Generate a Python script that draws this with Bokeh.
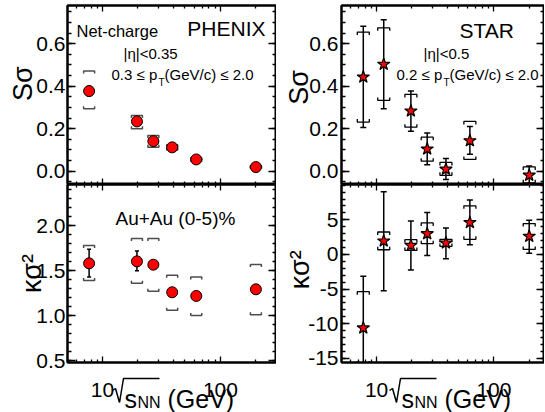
import numpy as np
from bokeh.plotting import figure
from bokeh.layouts import row, column
from bokeh.models import (Range1d, FixedTicker, LogAxis, LinearAxis, Label,
                          PrintfTickFormatter, CustomJSTickFormatter)
from bokeh.core.properties import value
from bokeh.embed import file_html
from bokeh.resources import INLINE

FONT = "Liberation Sans"

# ---------------- data ----------------
phenix_energy = [7.7, 19.6, 27.0, 39.0, 62.4, 200.0]
phenix_ss = [0.377, 0.234, 0.141, 0.112, 0.055, 0.019]
phenix_ss_stat_lo = [0.355, 0.222, 0.129, 0.106, 0.050, 0.015]
phenix_ss_stat_hi = [0.399, 0.246, 0.153, 0.118, 0.060, 0.023]
phenix_ss_sys_lo = [0.294, 0.199, 0.113, 0.100, 0.047, 0.013]
phenix_ss_sys_hi = [0.471, 0.262, 0.168, 0.124, 0.063, 0.025]

phenix_kk = [1.582, 1.604, 1.567, 1.260, 1.219, 1.293]
phenix_kk_stat_lo = [1.43, 1.50, 1.52, 1.22, 1.18, 1.25]
phenix_kk_stat_hi = [1.74, 1.72, 1.61, 1.30, 1.26, 1.34]
phenix_kk_sys_lo = [1.39, 1.36, 1.27, 1.06, 1.00, 1.01]
phenix_kk_sys_hi = [1.78, 1.86, 1.86, 1.45, 1.43, 1.57]

star_energy = [7.7, 11.5, 19.6, 27.0, 39.0, 62.4, 200.0]
star_ss = [0.443, 0.503, 0.283, 0.104, 0.009, 0.143, -0.019]
star_ss_stat_lo = [0.206, 0.294, 0.188, 0.030, -0.039, 0.079, -0.067]
star_ss_stat_hi = [0.682, 0.713, 0.377, 0.179, 0.060, 0.210, 0.024]
star_ss_sys_lo = [0.231, 0.333, 0.207, 0.047, -0.020, 0.055, -0.055]
star_ss_sys_hi = [0.655, 0.675, 0.361, 0.160, 0.041, 0.234, 0.020]

star_kk = [-10.61, 1.94, 1.31, 3.00, 1.65, 4.60, 2.62]
star_kk_stat_lo = [-18.0, -5.23, -2.23, -0.15, -0.63, 1.41, 0.19]
star_kk_stat_hi = [-3.15, 9.06, 4.84, 6.06, 3.82, 7.85, 4.94]
star_kk_sys_lo = [-15.8, 0.68, 0.58, 1.55, 1.16, 2.18, 0.73]
star_kk_sys_hi = [-5.38, 3.24, 2.13, 4.55, 2.18, 7.02, 4.46]

x_major = [10, 100]
x_tick_labels = ["10", "100"]
x_minor = [5, 6, 7, 8, 9, 20, 30, 40, 50, 60, 70, 80, 90, 200, 300]
ss_major = [0.0, 0.2, 0.4, 0.6]
ss_minor = [round(-0.05 + 0.05 * i, 2) for i in range(17)]
kk_major = [0.5, 1.0, 1.5, 2.0]
kk_minor = [round(0.5 + 0.1 * i, 2) for i in range(20)]
skk_major = [-15, -10, -5, 0, 5]
skk_minor = list(range(-15, 11))

# ---------------- layout constants ----------------
LX = Range1d(5.05, 299.0)
RX = Range1d(5.02, 270.0)
SS_Y = (-0.063, 0.78)
KK_Y = (0.478, 2.46)
SKK_Y = (-15.6, 10.1)
LB, RB = 67, 65
LW, RW = 209, 203
TH, BH = 179, 178
TOP, BOT = 5, 12
FH = 412 - TOP - TH - BH - BOT
NB = "\u00a0"
EMPTY = CustomJSTickFormatter(code="return ''")


def style_axis(ax, major_in, minor_in, font_size, standoff):
    ax.major_tick_in = major_in
    ax.major_tick_out = 0
    ax.minor_tick_in = minor_in
    ax.minor_tick_out = 0
    ax.axis_line_width = 2
    ax.axis_line_color = "black"
    ax.major_tick_line_width = 1.3
    ax.minor_tick_line_width = 1.3
    ax.major_tick_line_color = "black"
    ax.minor_tick_line_color = "black"
    ax.major_label_text_font = FONT
    ax.major_label_text_font_size = font_size
    ax.major_label_text_color = "black"
    ax.major_label_standoff = standoff


def make_panel(xr, yr, bl, fw, fh, bt, bb, yticks, yminor, yfmt, ysize, ystand,
               ytitle, tstand):
    p = figure(x_axis_type="log", x_range=xr, y_range=Range1d(*yr),
               width=bl + fw, height=bt + fh + bb,
               min_border_left=bl, min_border_right=0,
               min_border_top=bt, min_border_bottom=bb, toolbar_location=None,
               output_backend="svg", background_fill_color="white",
               border_fill_color="white")
    p.xgrid.visible = False
    p.ygrid.visible = False
    p.outline_line_color = "black"
    p.outline_line_width = 2
    xt = FixedTicker(ticks=x_major, minor_ticks=x_minor)
    yt = FixedTicker(ticks=yticks, minor_ticks=yminor)
    p.xaxis.ticker = xt
    p.xaxis.formatter = EMPTY
    p.yaxis.ticker = yt
    p.yaxis.formatter = yfmt
    style_axis(p.xaxis[0], 6, 3, "0px", 0)
    style_axis(p.yaxis[0], 8, 4, ysize, ystand)
    ya = p.yaxis[0]
    ya.axis_label = ytitle
    ya.axis_label_text_font = FONT
    ya.axis_label_text_font_size = "27px"
    ya.axis_label_text_font_style = "normal"
    ya.axis_label_text_color = "black"
    ya.axis_label_standoff = tstand
    top = LogAxis(ticker=xt, formatter=EMPTY)
    style_axis(top, 6, 3, "0px", 0)
    p.add_layout(top, "above")
    right = LinearAxis(ticker=yt, formatter=EMPTY)
    style_axis(right, 8, 4, "0px", 0)
    p.add_layout(right, "right")
    return p


def brackets(p, xs, lo, hi, xr, yr, fw, fh, half_px, tick_px, color, width):
    dec = (np.log10(xr.end) - np.log10(xr.start)) / fw
    f = 10 ** (half_px * dec)
    dy = tick_px * (yr[1] - yr[0]) / fh
    xl, yl = [], []
    for x, l, h in zip(xs, lo, hi):
        xl.append([x / f, x / f, x * f, x * f])
        yl.append([h - dy, h, h, h - dy])
        xl.append([x / f, x / f, x * f, x * f])
        yl.append([l + dy, l, l, l + dy])
    p.multi_line(xl, yl, line_color=color, line_width=width)


def stat_bars(p, xs, lo, hi, cap):
    p.segment(x0=xs, y0=lo, x1=xs, y1=hi, line_color="black", line_width=1.5)
    p.scatter(xs, lo, marker="dash", size=cap, line_color="black", line_width=1.5)
    p.scatter(xs, hi, marker="dash", size=cap, line_color="black", line_width=1.5)


def label(p, x, y, text, size, align="left"):
    p.add_layout(Label(x=x, y=y, x_units="screen", y_units="screen", text=text,
                       text_font=FONT, text_font_size=size, text_align=align,
                       text_baseline="alphabetic", text_color="black"))


def txt(f, x, y, text, size, align="left"):
    f.text(x=[x], y=[y], text=[text], text_align=align, text_baseline="alphabetic",
           text_font=value(FONT), text_font_size=size, text_color="black")


def pt_text(p, x0, y0, lo_txt):
    label(p, x0, y0, lo_txt + " ≤ p", "15px")
    label(p, x0 + 47, y0 - 8, "T", "10px")
    label(p, x0 + 53, y0, "(GeV/c) ≤ 2.0", "15px")


def make_footer(xr, bl, fw, t0):
    # footer strip below a lower panel: tick labels of the log axis and the axis title
    f = figure(x_axis_type="log", x_range=xr, y_range=Range1d(0, FH),
               width=bl + fw, height=FH, min_border_left=bl, min_border_right=0,
               min_border_top=0, min_border_bottom=0, toolbar_location=None,
               output_backend="svg", x_axis_location=None, y_axis_location=None,
               background_fill_color="white", border_fill_color="white")
    f.xgrid.visible = False
    f.ygrid.visible = False
    f.outline_line_color = None
    dec = (np.log10(xr.end) - np.log10(xr.start)) / fw

    def px(v):
        return 10 ** (np.log10(xr.start) + v * dec)

    f.text(x=x_major, y=[FH - 15] * len(x_major), text=x_tick_labels, text_align="center",
           text_baseline="alphabetic", text_font=value(FONT), text_font_size="21px",
           text_color="black")
    f.line(x=[px(t0 - 1), px(t0 + 2), px(t0 + 6), px(t0 + 10), px(t0 + 46)],
           y=[22, 24, 10, 34, 34], line_color="black", line_width=1.5)
    txt(f, px(t0 + 11), 14, "s", "25px")
    txt(f, px(t0 + 24), 10, "NN", "16px")
    txt(f, px(t0 + 54), 14, "(GeV)", "25px")
    return f


# ---------------- PHENIX S sigma ----------------
tl = make_panel(LX, SS_Y, LB, LW, TH, TOP, 0, ss_major, ss_minor,
                PrintfTickFormatter(format="%.1f"), "21px", 2, NB * 3 + "Sσ", -5)
brackets(tl, phenix_energy, phenix_ss_sys_lo, phenix_ss_sys_hi, LX, SS_Y, LW, TH,
         5.5, 2.5, "#4d4d4d", 1.5)
stat_bars(tl, phenix_energy, phenix_ss_stat_lo, phenix_ss_stat_hi, 4)
tl.scatter(phenix_energy, phenix_ss, marker="circle", size=11, fill_color="red",
           line_color="black", line_width=1)
label(tl, 9, TH - 25, "Net-charge", "16.5px")
label(tl, 198, TH - 23, "PHENIX", "21px", align="right")
label(tl, 56, TH - 48, "|η|<0.35", "15px")
pt_text(tl, 44, TH - 69, "0.3")

# ---------------- PHENIX kappa sigma^2 ----------------
bl = make_panel(LX, KK_Y, LB, LW, BH, 0, BOT, kk_major, kk_minor,
                PrintfTickFormatter(format="%.1f"), "21px", 2, "κσ²", -14)
brackets(bl, phenix_energy, phenix_kk_sys_lo, phenix_kk_sys_hi, LX, KK_Y, LW, BH,
         5.5, 2.5, "#4d4d4d", 1.5)
stat_bars(bl, phenix_energy, phenix_kk_stat_lo, phenix_kk_stat_hi, 4)
bl.scatter(phenix_energy, phenix_kk, marker="circle", size=11, fill_color="red",
           line_color="black", line_width=1)
label(bl, 48, BH - 34, "Au+Au (0-5)%", "19px")
fl = make_footer(LX, LB, LW, 46)

# ---------------- STAR S sigma ----------------
tr = make_panel(RX, SS_Y, RB, RW, TH, TOP, 0, ss_major, ss_minor,
                PrintfTickFormatter(format="%.1f"), "21px", 3, NB * 2 + "Sσ", -8)
brackets(tr, star_energy, star_ss_sys_lo, star_ss_sys_hi, RX, SS_Y, RW, TH,
         6, 3, "black", 1.3)
stat_bars(tr, star_energy, star_ss_stat_lo, star_ss_stat_hi, 6)
tr.scatter(star_energy, star_ss, marker="star", size=13, fill_color="red",
           line_color="black", line_width=1.2)
label(tr, 118, TH - 25, "STAR", "21px")
label(tr, 82, TH - 48, "|η|<0.5", "15px")
pt_text(tr, 55, TH - 69, "0.2")

# ---------------- STAR kappa sigma^2 ----------------
br = make_panel(RX, SKK_Y, RB, RW, BH, 0, BOT, skk_major, skk_minor,
                PrintfTickFormatter(format="%d"), "21px", 3, NB + "κσ²", -10)
brackets(br, star_energy, star_kk_sys_lo, star_kk_sys_hi, RX, SKK_Y, RW, BH,
         6, 3, "black", 1.3)
stat_bars(br, star_energy, star_kk_stat_lo, star_kk_stat_hi, 6)
br.scatter(star_energy, star_kk, marker="star", size=13, fill_color="red",
           line_color="black", line_width=1.2)
fr = make_footer(RX, RB, RW, 49)

layout = row(column(tl, bl, fl), column(tr, br, fr))
open("out.html", "w").write(file_html(layout, INLINE))
